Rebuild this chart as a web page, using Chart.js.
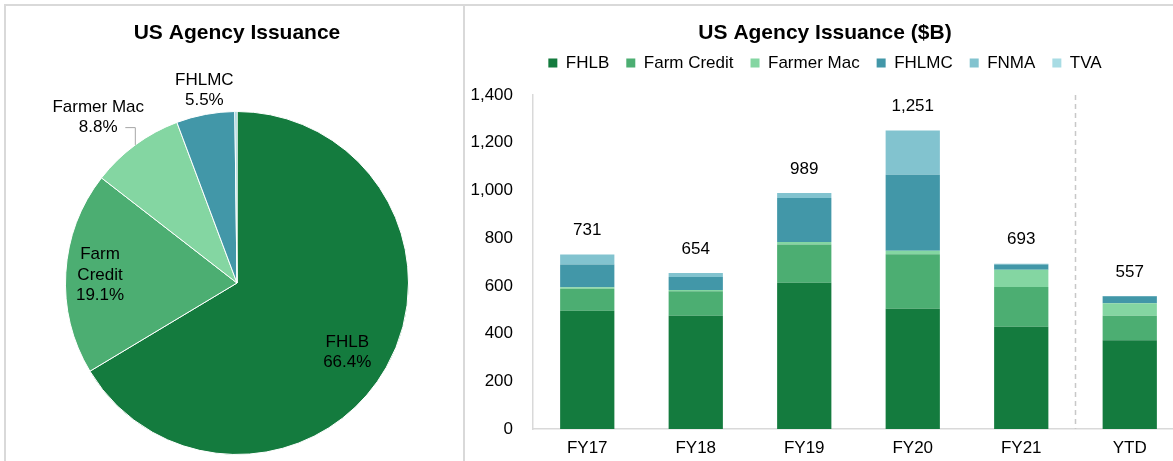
<!DOCTYPE html>
<html>
<head>
<meta charset="utf-8">
<script src="https://cdn.jsdelivr.net/npm/chart.js@4.4.1/dist/chart.umd.min.js"></script>
<style>
	html, body {
		margin: 0;
		padding: 0;
		background: #fff;
		width: 1173px;
		height: 461px;
		overflow: hidden;
		position: relative;
	}
	.panel {
		position: absolute;
		box-sizing: border-box;
	}
	#left-panel {
		left: 4px;
		top: 4px;
		width: 461px;
		height: 480px;
		border: 2px solid #d9d9d9;
	}
	#right-panel {
		left: 465px;
		top: 4px;
		width: 760px;
		height: 480px;
		border-top: 2px solid #d9d9d9;
	}
	canvas {
		position: absolute;
	}
	#pie-chart {
		left: 6px;
		top: 6px;
	}
	#bar-chart {
		left: 466px;
		top: 6px;
	}
</style>
</head>
<body>
<div class="panel" id="left-panel"></div>
<div class="panel" id="right-panel"></div>
<canvas id="pie-chart" width="457" height="455"></canvas>
<canvas id="bar-chart" width="730" height="455"></canvas>

<script>
// issuers, in legend / slice order
const issuers = ['FHLB', 'Farm Credit', 'Farmer Mac', 'FHLMC', 'FNMA', 'TVA'];
const issuerColors = ['#147B3E', '#4CAE72', '#84D6A2', '#4297A8', '#82C3CF', '#A8DCE4'];

// pie: share of issuance, %
const pieShares = [66.4, 19.1, 8.8, 5.5, 0.2, 0];

// bars: issuance by fiscal year, $B
const years = ['FY17', 'FY18', 'FY19', 'FY20', 'FY21', 'YTD'];
const fhlb = [496, 475, 613, 504, 429, 372];
const farmCredit = [92, 102, 160, 228, 166, 103];
const farmerMac = [6, 6, 11, 15, 73, 52];
const fhlmc = [95, 54, 184, 319, 22, 29];
const fnma = [42, 17, 21, 185, 3, 1];
const tva = [0, 0, 0, 0, 0, 0];
const totals = [731, 654, 989, 1251, 693, 557];

const yMin = 0;
const yMax = 1400;
const yStep = 200;

Chart.defaults.font.family = "'Liberation Sans', Arial, sans-serif";
Chart.defaults.color = '#000';

document.addEventListener('DOMContentLoaded', () => {
	pieChart();
	barChart();
});

const titleFont = {
	size: 21,
	weight: 'bold',
};

function pieChart() {
	const ctx = document.getElementById('pie-chart');

	if (!ctx) {
		return;
	}

	// label lines and placement (radius factor, angle shift in degrees) per slice
	const labelLines = [
		['FHLB'],
		['Farm', 'Credit'],
		['Farmer Mac'],
		['FHLMC'],
		null,
		null,
	];
	const labelPlace = [
		[0.76, 2.7],
		[0.8, 0],
		[1.26, -3.6],
		[1.14, 1],
		null,
		null,
	];

	const pieLabels = {
		id: 'pieLabels',
		afterDatasetsDraw(chart) {
			const c = chart.ctx;
			const arcs = chart.getDatasetMeta(0).data;

			c.save();
			c.font = "17px 'Liberation Sans', Arial, sans-serif";
			c.fillStyle = '#000';
			c.textAlign = 'center';
			c.textBaseline = 'middle';

			arcs.forEach((arc, i) => {
				if (!labelLines[i]) {
					return;
				}
				const lines = [...labelLines[i], pieShares[i].toFixed(1) + '%'];
				const mid = (arc.startAngle + arc.endAngle) / 2;
				const ang = mid + (labelPlace[i][1] * Math.PI) / 180;
				const r = arc.outerRadius * labelPlace[i][0];
				const lx = arc.x + r * Math.cos(ang);
				const ly = arc.y + r * Math.sin(ang);
				const lh = 20.5;
				const y0 = ly - ((lines.length - 1) * lh) / 2;

				lines.forEach((t, k) => c.fillText(t, lx, y0 + k * lh));

				// leader line for the outside label on the left
				if (labelPlace[i][0] > 1.2) {
					const ex = arc.x + arc.outerRadius * Math.cos(mid);
					const ey = arc.y + arc.outerRadius * Math.sin(mid);
					const lineY = y0 + lh;
					c.strokeStyle = '#a6a6a6';
					c.lineWidth = 1;
					c.beginPath();
					c.moveTo(ex, ey);
					c.lineTo(ex, lineY);
					c.lineTo(ex - 10, lineY);
					c.stroke();
				}
			});
			c.restore();
		},
	};

	new Chart(ctx, {
		type: 'pie',
		data: {
			labels: issuers,
			datasets: [
				{
					data: pieShares,
					backgroundColor: issuerColors,
					borderColor: '#fff',
					borderWidth: 1,
				},
			],
		},
		options: {
			responsive: false,
			animation: false,
			layout: {
				padding: {
					left: 5,
					right: 0,
					top: 0,
					bottom: 6,
				},
			},
			plugins: {
				legend: {
					display: false,
				},
				tooltip: {
					enabled: false,
				},
				title: {
					display: true,
					text: 'US Agency Issuance',
					font: titleFont,
					color: '#000',
					padding: {
						top: 14.4,
						bottom: 65.4,
					},
				},
			},
		},
		plugins: [pieLabels],
	});
}

function barChart() {
	const ctx = document.getElementById('bar-chart');

	if (!ctx) {
		return;
	}

	const series = [fhlb, farmCredit, farmerMac, fhlmc, fnma, tva];

	const totalLabels = {
		id: 'totalLabels',
		afterDatasetsDraw(chart) {
			const c = chart.ctx;
			const x = chart.scales.x;
			const y = chart.scales.y;

			c.save();
			c.font = "17px 'Liberation Sans', Arial, sans-serif";
			c.fillStyle = '#000';
			c.textAlign = 'center';
			c.textBaseline = 'middle';
			totals.forEach((t, i) => {
				c.fillText(t.toLocaleString('en-US'), x.getPixelForValue(i), y.getPixelForValue(t) - 24);
			});
			c.restore();
		},
	};

	// dashed divider between the full years and YTD
	const ytdDivider = {
		id: 'ytdDivider',
		beforeDatasetsDraw(chart) {
			const c = chart.ctx;
			const x = chart.scales.x;
			const area = chart.chartArea;
			const px = (x.getPixelForValue(years.length - 2) + x.getPixelForValue(years.length - 1)) / 2;

			c.save();
			c.strokeStyle = '#c8c8c8';
			c.lineWidth = 1.5;
			c.setLineDash([5, 4]);
			c.beginPath();
			c.moveTo(px, area.top);
			c.lineTo(px, area.bottom);
			c.stroke();
			c.restore();
		},
	};

	// a bit more room between the legend and the plot
	const legendGap = {
		id: 'legendGap',
		afterInit(chart) {
			const legend = chart.legend;
			if (!legend) {
				return;
			}
			const fit = legend.fit;
			legend.fit = function () {
				fit.call(this);
				this.height += 13.4;
			};
		},
	};

	new Chart(ctx, {
		type: 'bar',
		data: {
			labels: years,
			datasets: series.map((data, i) => ({
				label: issuers[i],
				data: data,
				backgroundColor: issuerColors[i],
				borderWidth: 0,
				stack: 'all',
				categoryPercentage: 1,
				barPercentage: 0.5,
			})),
		},
		options: {
			responsive: false,
			animation: false,
			layout: {
				padding: {
					left: 0,
					right: 12,
					top: 0,
					bottom: 0,
				},
			},
			plugins: {
				tooltip: {
					enabled: false,
				},
				title: {
					display: true,
					text: 'US Agency Issuance ($B)',
					font: titleFont,
					color: '#000',
					padding: {
						top: 14.4,
						bottom: -8,
					},
				},
				legend: {
					display: true,
					position: 'top',
					labels: {
						boxWidth: 9,
						boxHeight: 9,
						padding: 17,
						color: '#000',
						font: {
							size: 17,
						},
					},
				},
			},
			scales: {
				x: {
					stacked: true,
					grid: {
						display: false,
						drawTicks: false,
					},
					border: {
						color: '#d9d9d9',
						width: 1.5,
					},
					ticks: {
						color: '#000',
						padding: 9,
						font: {
							size: 17,
						},
					},
					afterFit(scale) {
						scale.height = 32;
					},
				},
				y: {
					stacked: true,
					min: yMin,
					max: yMax,
					grid: {
						display: false,
						drawTicks: false,
					},
					border: {
						color: '#d9d9d9',
						width: 1.5,
					},
					ticks: {
						stepSize: yStep,
						color: '#000',
						padding: 20,
						font: {
							size: 17,
						},
					},
					afterFit(scale) {
						scale.width = 67;
					},
				},
			},
		},
		plugins: [totalLabels, ytdDivider, legendGap],
	});
}
</script>
</body>
</html>
